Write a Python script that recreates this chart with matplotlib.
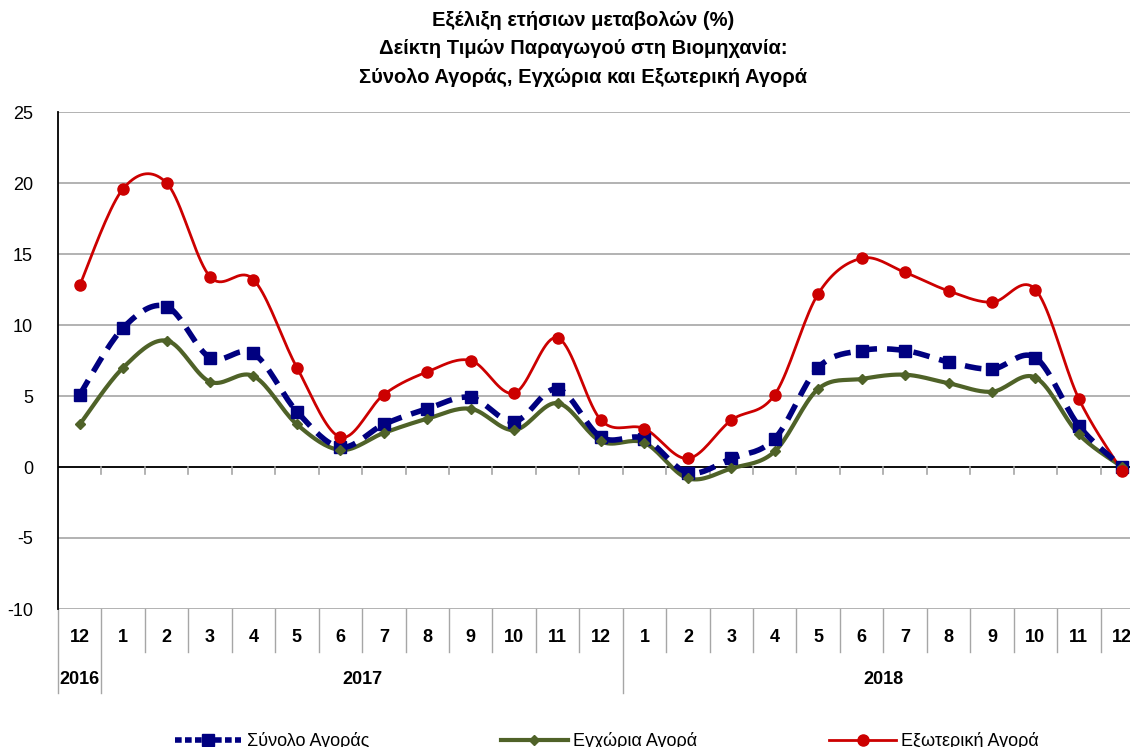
import matplotlib
matplotlib.use('Agg')
import matplotlib.pyplot as plt
import matplotlib.transforms as mtrans
import numpy as np

plt.rcParams['font.family'] = ['Liberation Sans', 'DejaVu Sans']
plt.rcParams['axes.unicode_minus'] = False

# data (annual change %)
months = ['12', '1', '2', '3', '4', '5', '6', '7', '8', '9', '10', '11', '12',
          '1', '2', '3', '4', '5', '6', '7', '8', '9', '10', '11', '12']
years = ['2016', '2017', '2018']
total = [5.1, 9.8, 11.3, 7.7, 8.0, 3.9, 1.4, 3.0, 4.1, 4.9, 3.2, 5.5, 2.1,
         2.0, -0.4, 0.6, 2.0, 7.0, 8.2, 8.2, 7.4, 6.9, 7.7, 2.9, 0.0]
domestic = [3.0, 7.0, 8.9, 6.0, 6.4, 3.0, 1.2, 2.4, 3.4, 4.1, 2.6, 4.5, 1.8,
            1.7, -0.8, -0.1, 1.1, 5.5, 6.2, 6.5, 5.9, 5.3, 6.3, 2.3, 0.0]
external = [12.8, 19.6, 20.0, 13.4, 13.2, 7.0, 2.1, 5.1, 6.7, 7.5, 5.2, 9.1, 3.3,
            2.7, 0.6, 3.3, 5.1, 12.2, 14.7, 13.7, 12.4, 11.6, 12.5, 4.8, -0.3]


def smooth(xs, ys, n=20):
    # bezier smoothing like the spreadsheet "smoothed line"
    p = np.column_stack([xs, ys]).astype(float)
    pts = np.vstack([p[0], p, p[-1]])
    out = []
    t = np.linspace(0, 1, n)[:, None]
    for i in range(1, len(pts) - 2):
        p0, p1, p2, p3 = pts[i - 1], pts[i], pts[i + 1], pts[i + 2]
        c1 = p1 + (p2 - p0) / 6.0
        c2 = p2 - (p3 - p1) / 6.0
        seg = ((1 - t) ** 3) * p1 + 3 * ((1 - t) ** 2) * t * c1 + 3 * (1 - t) * t ** 2 * c2 + t ** 3 * p2
        out.append(seg if i == 1 else seg[1:])
    out = np.vstack(out)
    return out[:, 0], out[:, 1]


fig = plt.figure(figsize=(11.3, 7.47), dpi=100)
ax = fig.add_axes([58 / 1130, 1 - 609 / 747, (1144 - 58) / 1130, (609 - 112) / 747])

x = np.arange(len(months))

sx, sy = smooth(x, total)
ax.plot(sx, sy, color='#000080', lw=4, linestyle=(0, (3, 1.8)), zorder=4)
ax.plot(x, total, 's', color='#000080', ms=8, zorder=5)
l1, = ax.plot([], [], color='#000080', lw=4, linestyle=(0, (1.2, 0.6)), marker='s', ms=8)

sx, sy = smooth(x, domestic)
ax.plot(sx, sy, color='#4F6228', lw=3, zorder=3)
ax.plot(x, domestic, 'D', color='#4F6228', ms=5, zorder=5)
l2, = ax.plot([], [], color='#4F6228', lw=3, marker='D', ms=5)

sx, sy = smooth(x, external)
ax.plot(sx, sy, color='#CC0000', lw=2, zorder=3)
ax.plot(x, external, 'o', color='#CC0000', ms=8, zorder=5)
l3, = ax.plot([], [], color='#CC0000', lw=2, marker='o', ms=8)

ax.set_xlim(-0.5, len(months) - 0.5)
ax.set_ylim(-10, 25)
ax.set_yticks(np.arange(-10, 26, 5))
ax.yaxis.grid(True, color='#A6A6A6', lw=1.2)
ax.set_axisbelow(True)
for s in ['top', 'right', 'bottom']:
    ax.spines[s].set_visible(False)
ax.spines['left'].set_color('black')
ax.spines['left'].set_linewidth(1.3)
ax.tick_params(axis='y', length=0, labelsize=13, pad=18)
ax.set_xticks([])
ax.axhline(0, color='black', lw=1.3, zorder=2)

# little tick marks on the zero line between categories
for b in np.arange(0.5, len(months) - 0.5, 1):
    ax.plot([b, b], [0, -0.5], color='#A6A6A6', lw=1.2, zorder=2)

# category label row below the plot
tr = mtrans.blended_transform_factory(ax.transData, fig.transFigure)
y_top = 1 - 609 / 747
y_mid = 1 - 652 / 747
y_bot = 1 - 693 / 747
for i, m in enumerate(months):
    ax.text(i, 1 - 637 / 747, m, transform=tr, ha='center', va='center',
            fontsize=13, fontweight='bold')
for b in np.arange(-0.5, len(months), 1):
    long_ = b in (-0.5, 0.5, 12.5)
    ax.plot([b, b], [y_top, y_bot if long_ else y_mid], transform=tr,
            color='#A6A6A6', lw=1, clip_on=False)

year_pos = [0, 6.5, 18.5]
for yp, yl in zip(year_pos, years):
    ax.text(yp, 1 - 679 / 747, yl, transform=tr, ha='center', va='center',
            fontsize=13, fontweight='bold')

fig.text(583 / 1130, 1 - 49 / 747,
         'Εξέλιξη ετήσιων μεταβολών (%)\nΔείκτη Τιμών Παραγωγού στη Βιομηχανία:\nΣύνολο Αγοράς, Εγχώρια και Εξωτερική Αγορά',
         ha='center', va='center', fontsize=14.5, fontweight='bold', linespacing=1.62)

fig.legend([l1, l2, l3], ['Σύνολο Αγοράς', 'Εγχώρια Αγορά', 'Εξωτερική Αγορά'],
           loc='center', bbox_to_anchor=(0.537, 1 - 741 / 747), ncol=3, frameon=False,
           fontsize=13, handlelength=3.7, columnspacing=7.3, handletextpad=0.3)

fig.savefig('out.png', dpi=100)
